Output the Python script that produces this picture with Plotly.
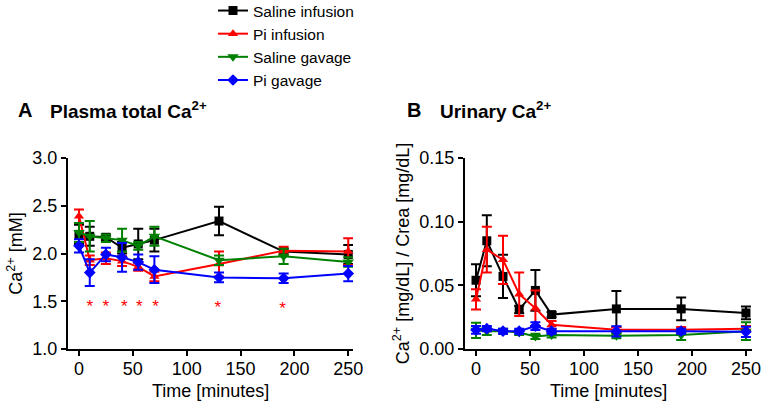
import plotly.graph_objects as go

# ---- data ----
time_min = [0, 10, 25, 40, 55, 70, 130, 190, 250]
series_names = ["Saline infusion", "Pi infusion", "Saline gavage", "Pi gavage"]

# Plasma total Ca2+ (mM)
plasma_saline_inf = [2.20, 2.18, 2.17, 2.06, 2.10, 2.14, 2.34, 2.02, 1.99]
plasma_saline_inf_err = [0.10, 0.10, 0.03, 0.06, 0.16, 0.12, 0.15, 0.03, 0.10]
plasma_pi_inf = [2.39, 1.93, 1.95, 1.92, 1.86, 1.76, 1.89, 2.03, 2.02]
plasma_pi_inf_err = [0.07, 0.05, 0.06, 0.05, 0.04, 0.05, 0.13, 0.04, 0.14]
plasma_saline_gav = [2.22, 2.18, 2.16, 2.14, 2.08, 2.18, 1.93, 1.97, 1.91]
plasma_saline_gav_err = [0.10, 0.16, 0.04, 0.12, 0.04, 0.10, 0.05, 0.08, 0.05]
plasma_pi_gav = [2.08, 1.80, 1.99, 1.96, 1.91, 1.83, 1.75, 1.74, 1.79]
plasma_pi_gav_err = [0.07, 0.14, 0.07, 0.15, 0.08, 0.14, 0.05, 0.05, 0.08]

# significance markers (plasma)
sig_time = [10, 25, 42, 56, 71, 129, 189]
sig_y = [1.43, 1.43, 1.43, 1.43, 1.43, 1.425, 1.415]

# Urinary Ca2+ / Crea
urine_saline_inf = [0.054, 0.085, 0.057, 0.031, 0.046, 0.027, 0.0315, 0.0315, 0.0283]
urine_saline_inf_err = [0.0125, 0.020, 0.017, 0.003, 0.016, 0.002, 0.014, 0.009, 0.005]
urine_pi_inf = [0.039, 0.078, 0.070, 0.043, 0.032, 0.019, 0.0152, 0.0152, 0.016]
urine_pi_inf_err = [0.008, 0.018, 0.019, 0.017, 0.014, 0.003, 0.002, 0.002, 0.002]
urine_saline_gav = [0.0147, 0.014, 0.014, 0.013, 0.0099, 0.011, 0.0105, 0.011, 0.014]
urine_saline_gav_err = [0.006, 0.003, 0.002, 0.002, 0.002, 0.002, 0.002, 0.004, 0.007]
urine_pi_gav = [0.015, 0.016, 0.014, 0.014, 0.018, 0.014, 0.0139, 0.014, 0.0135]
urine_pi_gav_err = [0.003, 0.002, 0.002, 0.002, 0.003, 0.002, 0.004, 0.002, 0.004]

colors = ["#000000", "#ff0000", "#008000", "#0000ff"]
symbols = ["square", "triangle-up", "triangle-down", "diamond"]
msizes = [9, 9, 10, 9]

plasma = [(plasma_saline_inf, plasma_saline_inf_err), (plasma_pi_inf, plasma_pi_inf_err),
          (plasma_saline_gav, plasma_saline_gav_err), (plasma_pi_gav, plasma_pi_gav_err)]
urine = [(urine_saline_inf, urine_saline_inf_err), (urine_pi_inf, urine_pi_inf_err),
         (urine_saline_gav, urine_saline_gav_err), (urine_pi_gav, urine_pi_gav_err)]

fig = go.Figure()
for i, name in enumerate(series_names):
    for (vals, errs), xa, ya, show in [(plasma[i], "x", "y", True), (urine[i], "x2", "y2", False)]:
        fig.add_trace(go.Scatter(
            x=time_min, y=vals, name=name, legendgroup=name, showlegend=show,
            xaxis=xa, yaxis=ya, mode="lines+markers",
            line=dict(color=colors[i], width=2),
            marker=dict(symbol=symbols[i], size=msizes[i], color=colors[i]),
            error_y=dict(type="data", array=errs, visible=True, color=colors[i],
                         thickness=2, width=5),
            cliponaxis=False,
        ))

fig.add_trace(go.Scatter(
    x=sig_time, y=sig_y, mode="text", text=["*"] * len(sig_time),
    textfont=dict(color="#ff0000", size=17, family="Liberation Sans, Arial"),
    textposition="middle center", showlegend=False, xaxis="x", yaxis="y",
))

axis_common = dict(showline=True, linecolor="black", linewidth=2, ticks="outside",
                   ticklen=5, tickwidth=2, tickcolor="black", showgrid=False,
                   zeroline=False, automargin=False, tickfont=dict(size=18, color="black"),
                   title_font=dict(size=18, color="black"))

ann_font_letter = dict(size=20, color="black")
ann_font_title = dict(size=19, color="black")
title_y = 1 - 110 / 403
xtitle_y = 1 - 391 / 403

fig.update_layout(
    width=762, height=403,
    margin=dict(l=0, r=0, t=0, b=0, autoexpand=False),
    paper_bgcolor="white", plot_bgcolor="white",
    font=dict(family="Liberation Sans, Arial", color="black"),
    xaxis=dict(domain=[68 / 762, 353 / 762], range=[-10.2, 254.4], tickvals=[0, 50, 100, 150, 200, 250],
               ticklabelstandoff=-3, anchor="y", **axis_common),
    yaxis=dict(domain=[1 - 349 / 403, 1 - 158 / 403], range=[1.0, 3.0], tickvals=[1.0, 1.5, 2.0, 2.5, 3.0],
               tickformat=".1f",
               title=dict(text="Ca<sup>2+</sup> [mM]", standoff=5), anchor="x", **axis_common),
    xaxis2=dict(domain=[465 / 762, 752 / 762], range=[-10.2, 255.6], tickvals=[0, 50, 100, 150, 200, 250],
                ticklabelstandoff=-3, anchor="y2", **axis_common),
    yaxis2=dict(domain=[1 - 349 / 403, 1 - 158 / 403], range=[0, 0.15], tickvals=[0, 0.05, 0.10, 0.15],
                tickformat=".2f",
                title=dict(text="Ca<sup>2+</sup> [mg/dL] / Crea [mg/dL]", standoff=5),
                anchor="x2", **axis_common),
    legend=dict(x=213 / 762, y=1.015, xanchor="left", yanchor="top", font=dict(size=15.5, color="black"),
                bgcolor="rgba(0,0,0,0)", tracegroupgap=0, itemwidth=30),
    annotations=[
        dict(text="<b>A</b>", x=16 / 762, y=title_y, xref="paper", yref="paper",
             xanchor="left", yanchor="middle", showarrow=False, font=ann_font_letter),
        dict(text="<b>Plasma total Ca<sup>2+</sup></b>", x=48 / 762, y=title_y, xref="paper",
             yref="paper", xanchor="left", yanchor="middle", showarrow=False, font=ann_font_title),
        dict(text="<b>B</b>", x=405 / 762, y=title_y, xref="paper", yref="paper",
             xanchor="left", yanchor="middle", showarrow=False, font=ann_font_letter),
        dict(text="<b>Urinary Ca<sup>2+</sup></b>", x=438 / 762, y=title_y, xref="paper",
             yref="paper", xanchor="left", yanchor="middle", showarrow=False, font=ann_font_title),
        dict(text="Time [minutes]", x=210.5 / 762, y=xtitle_y, xref="paper", yref="paper",
             xanchor="center", yanchor="middle", showarrow=False, borderpad=0,
             font=dict(size=18, color="black")),
        dict(text="Time [minutes]", x=608.5 / 762, y=xtitle_y, xref="paper", yref="paper",
             xanchor="center", yanchor="middle", showarrow=False, borderpad=0,
             font=dict(size=18, color="black")),
    ],
)

fig.write_html("out.html", post_script="document.body.style.margin='0';",
               config={"displayModeBar": False})
